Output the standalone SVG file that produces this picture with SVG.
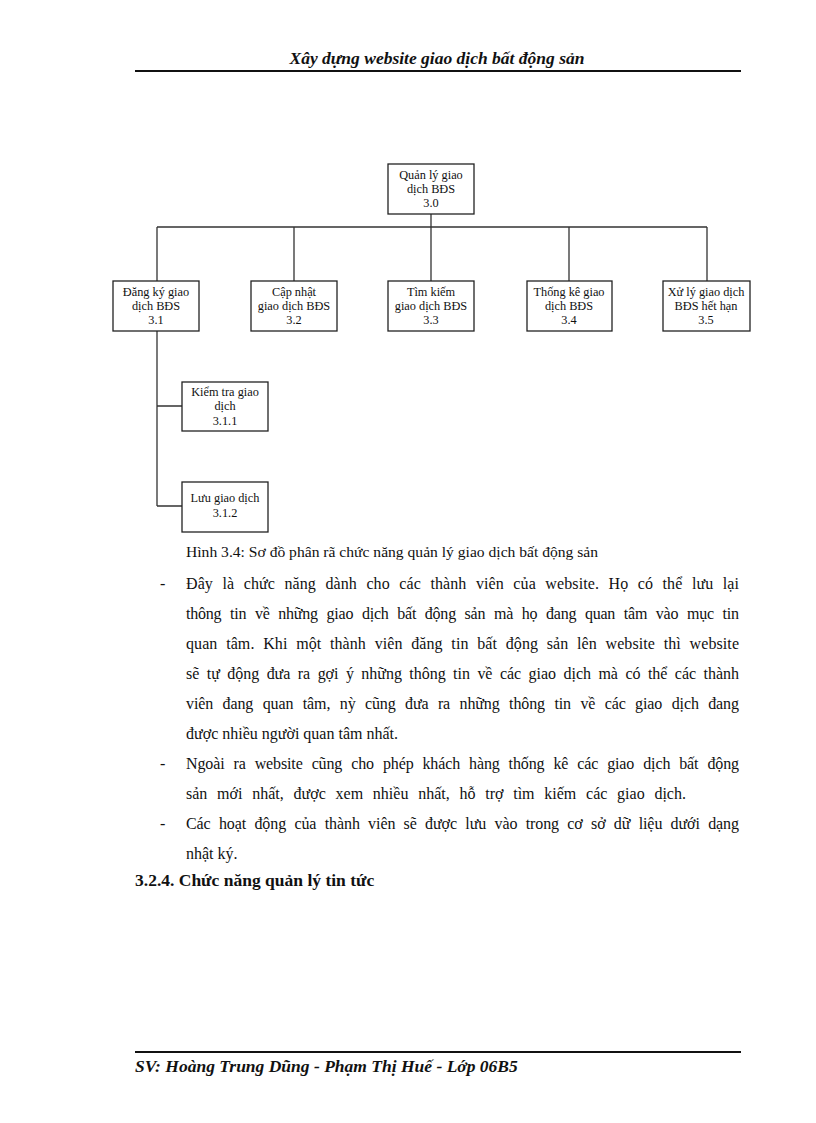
<svg xmlns="http://www.w3.org/2000/svg" width="816" height="1123" viewBox="0 0 816 1123">
<style>
.box{fill:#fff;stroke:#222;stroke-width:1.3}
.con{fill:none;stroke:#333;stroke-width:1.3}
.bt{font-family:"Liberation Serif",serif;font-size:12.3px;fill:#111;text-anchor:middle}
.hd{font-family:"Liberation Serif",serif;font-size:17.5px;font-style:italic;font-weight:bold;fill:#111}
.p{font-family:"Liberation Serif",serif;font-size:16px;fill:#111}
.cap{font-family:"Liberation Serif",serif;font-size:15.6px;fill:#111}
.h3{font-family:"Liberation Serif",serif;font-size:17.5px;font-weight:bold;fill:#111}
.rule{stroke:#111;stroke-width:2}
</style>
<rect width="816" height="1123" fill="#fff"/>
<text class="hd" x="437" y="64" text-anchor="middle">Xây dựng website giao dịch bất động sản</text>
<line class="rule" x1="135" y1="71" x2="741" y2="71"/>

<g id="connectors">
<path class="con" d="M431,214 V227 M157,227 H707 M157,227 V281 M294,227 V281 M431,227 V281 M569,227 V281 M707,227 V281"/>
<path class="con" d="M157,331 V506 M157,406 H182 M157,506 H182"/>
</g>

<g id="n30"><rect class="box" x="388" y="164" width="86" height="50"/>
<text class="bt" x="431" y="179">Quản lý giao</text><text class="bt" x="431" y="193">dịch BĐS</text><text class="bt" x="431" y="207">3.0</text></g>
<g id="n31"><rect class="box" x="113" y="281" width="86" height="50"/>
<text class="bt" x="156" y="296">Đăng ký giao</text><text class="bt" x="156" y="310">dịch BĐS</text><text class="bt" x="156" y="324">3.1</text></g>
<g id="n32"><rect class="box" x="251" y="281" width="86" height="50"/>
<text class="bt" x="294" y="296">Cập nhật</text><text class="bt" x="294" y="310">giao dịch BĐS</text><text class="bt" x="294" y="324">3.2</text></g>
<g id="n33"><rect class="box" x="388" y="281" width="86" height="50"/>
<text class="bt" x="431" y="296">Tìm kiếm</text><text class="bt" x="431" y="310">giao dịch BĐS</text><text class="bt" x="431" y="324">3.3</text></g>
<g id="n34"><rect class="box" x="527" y="281" width="85" height="50"/>
<text class="bt" x="569" y="296">Thống kê giao</text><text class="bt" x="569" y="310">dịch BĐS</text><text class="bt" x="569" y="324">3.4</text></g>
<g id="n35"><rect class="box" x="663" y="281" width="87" height="50"/>
<text class="bt" x="706" y="296">Xử lý giao dịch</text><text class="bt" x="706" y="310">BĐS hết hạn</text><text class="bt" x="706" y="324">3.5</text></g>
<g id="n311"><rect class="box" x="182" y="382" width="86" height="49"/>
<text class="bt" x="225" y="396">Kiểm tra giao</text><text class="bt" x="225" y="410">dịch</text><text class="bt" x="225" y="425">3.1.1</text></g>
<g id="n312"><rect class="box" x="182" y="482" width="86" height="50"/>
<text class="bt" x="225" y="502">Lưu giao dịch</text><text class="bt" x="225" y="517">3.1.2</text></g>

<text class="cap" x="186" y="557">Hình 3.4: Sơ đồ phân rã chức năng quản  lý giao dịch bất động sản</text>
<text class="p" x="160" y="589">-</text>
<text class="p" x="186" y="589" word-spacing="5.4" textLength="553" lengthAdjust="spacing">Đây là chức năng dành  cho các thành viên của website. Họ có thể lưu lại</text>
<text class="p" x="186" y="619" word-spacing="4.9" textLength="553" lengthAdjust="spacing">thông tin về những giao dịch bất động sản mà họ đang quan tâm vào mục tin</text>
<text class="p" x="186" y="649" word-spacing="4.6" textLength="553" lengthAdjust="spacing">quan tâm. Khi một thành viên đăng tin bất động sản lên website thì website</text>
<text class="p" x="186" y="679" word-spacing="3.5" textLength="553" lengthAdjust="spacing">sẽ tự động đưa ra gợi ý những thông tin về các giao dịch mà có thể các thành</text>
<text class="p" x="186" y="709" word-spacing="5.5" textLength="553" lengthAdjust="spacing">viên đang quan tâm, nỳ cũng đưa ra những thông tin về các giao dịch đang</text>
<text class="p" x="186" y="739">được nhiều người quan tâm nhất.</text>
<text class="p" x="160" y="769">-</text>
<text class="p" x="186" y="769" word-spacing="5.1" textLength="553" lengthAdjust="spacing">Ngoài ra website cũng cho phép khách hàng thống kê các giao dịch bất động</text>
<text class="p" x="186" y="799" word-spacing="5.7" textLength="500" lengthAdjust="spacing">sản mới nhất, được xem nhiều nhất, hỗ trợ tìm kiếm các giao dịch.</text>
<text class="p" x="160" y="829">-</text>
<text class="p" x="186" y="829" word-spacing="4.4" textLength="553" lengthAdjust="spacing">Các hoạt động của thành viên sẽ được lưu vào trong cơ sở dữ liệu dưới dạng</text>
<text class="p" x="186" y="859">nhật ký.</text>
<text class="h3" x="135" y="886">3.2.4. Chức năng quản  lý tin tức</text>

<line class="rule" x1="135" y1="1052" x2="741" y2="1052"/>
<text class="hd" x="135" y="1072">SV: Hoàng Trung Dũng - Phạm Thị Huế - Lớp 06B5</text>
</svg>
